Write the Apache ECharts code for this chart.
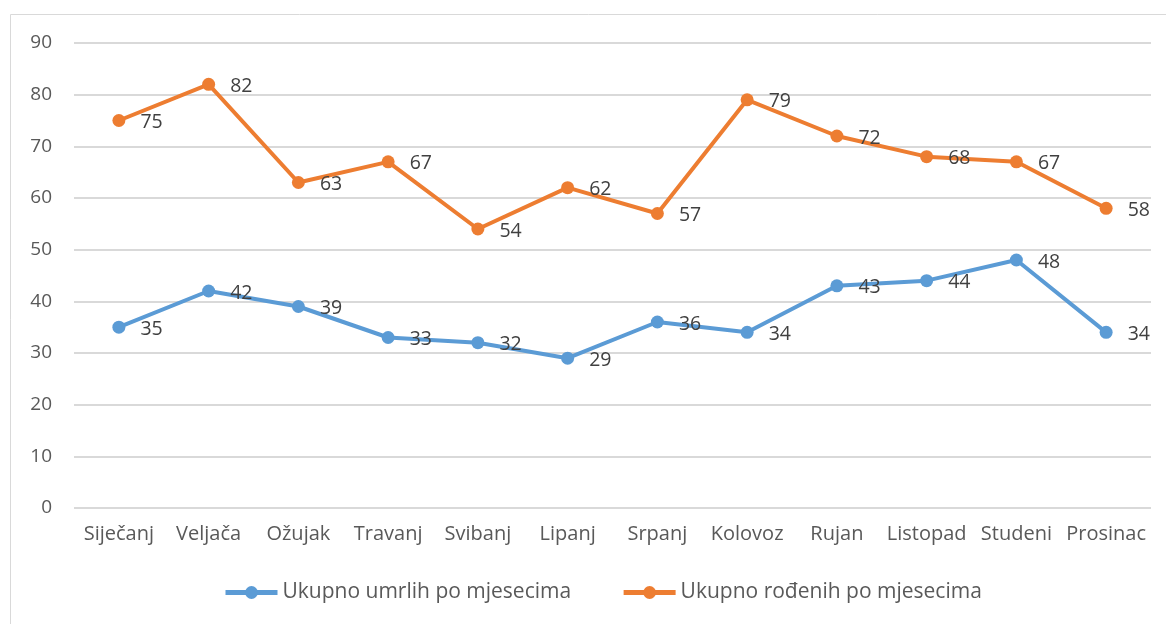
<!DOCTYPE html>
<html>
<head>
<meta charset="utf-8">
<script src="https://cdn.jsdelivr.net/npm/echarts@6/dist/echarts.min.js"></script>
<style>
  html, body { margin: 0; padding: 0; background: #fff; }
  #chart { width: 1166px; height: 624px; }
</style>
</head>
<body>
<div id="chart"></div>
<script>
const months = ["Siječanj", "Veljača", "Ožujak", "Travanj", "Svibanj", "Lipanj",
  "Srpanj", "Kolovoz", "Rujan", "Listopad", "Studeni", "Prosinac"];
const umrli = [35, 42, 39, 33, 32, 29, 36, 34, 43, 44, 48, 34];
const rodeni = [75, 82, 63, 67, 54, 62, 57, 79, 72, 68, 67, 58];
const seriesNames = ["Ukupno umrlih po mjesecima", "Ukupno rođenih po mjesecima"];

const textColor = "#595959";
const font = "'Open Sans', sans-serif";

const chart = echarts.init(document.getElementById("chart"));

function lineSeries(name, data, color) {
  return {
    name: name,
    type: "line",
    data: data,
    symbol: "circle",
    symbolSize: 13,
    itemStyle: { color: color },
    lineStyle: { color: color, width: 4 },
    label: {
      show: true,
      position: "right",
      distance: 15,
      offset: [0, 2],
      color: "#404040",
      fontFamily: font,
      fontSize: 19.5,
    },
    z: 3,
  };
}

chart.setOption({
  animation: false,
  graphic: [
    {
      type: "rect",
      shape: { x: 10.5, y: 14.5, width: 1170, height: 620 },
      style: { fill: "none", stroke: "#d9d9d9", lineWidth: 1 },
      silent: true,
    },
  ],
  grid: { left: 74, right: 15, top: 43, bottom: 116 },
  legend: {
    bottom: 16,
    left: 218,
    itemWidth: 52,
    itemHeight: 16,
    itemGap: 50,
    lineStyle: { width: 5 },
    textStyle: { color: textColor, fontFamily: font, fontSize: 21 },
    data: seriesNames,
  },
  xAxis: {
    type: "category",
    data: months,
    boundaryGap: true,
    axisLine: { show: false },
    axisTick: { show: false },
    axisLabel: { color: textColor, fontFamily: font, fontSize: 20, margin: 16, interval: 0 },
  },
  yAxis: {
    type: "value",
    min: 0,
    max: 90,
    interval: 10,
    axisLine: { show: false },
    axisTick: { show: false },
    axisLabel: { color: textColor, fontFamily: font, fontSize: 19, margin: 22 },
    splitLine: { lineStyle: { color: "#d9d9d9", width: 2 } },
  },
  series: [
    lineSeries(seriesNames[0], umrli, "#5b9bd5"),
    lineSeries(seriesNames[1], rodeni, "#ed7d31"),
  ],
});
</script>
</body>
</html>
